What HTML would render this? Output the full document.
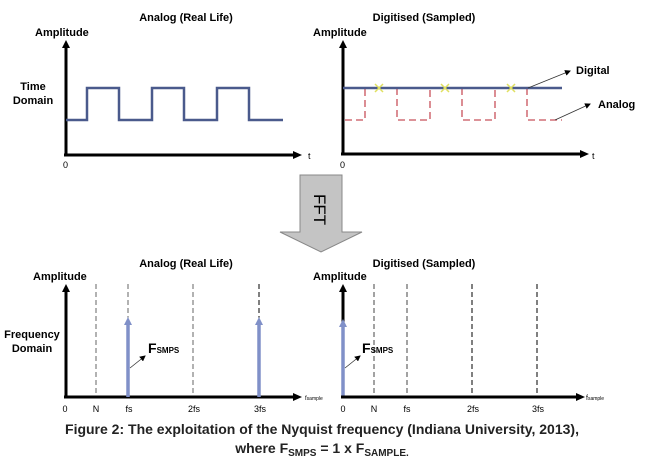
<!DOCTYPE html>
<html><head><style>
body{margin:0;background:#fff;}
svg{display:block;font-family:"Liberation Sans",sans-serif;}
.b{font-weight:bold;font-size:11px;}
.s{font-size:9px;}
</style></head><body>
<svg width="645" height="470" viewBox="0 0 645 470">
<defs>
<marker id="ah" markerWidth="6" markerHeight="6" refX="5" refY="3" orient="auto" markerUnits="userSpaceOnUse"><path d="M0,0 L6,3 L0,6z" fill="#000"/></marker>
<marker id="bh" markerWidth="10" markerHeight="10" refX="3" refY="5" orient="auto" markerUnits="userSpaceOnUse"><path d="M0,1 L8,5 L0,9z" fill="#8090c8"/></marker>
</defs>
<text x="186" y="21" class="b" text-anchor="middle">Analog (Real Life)</text>
<text x="424" y="21" class="b" text-anchor="middle">Digitised (Sampled)</text>
<text x="35" y="36" class="b">Amplitude</text>
<text x="313" y="36" class="b">Amplitude</text>
<text x="33" y="90" class="b" text-anchor="middle">Time</text>
<text x="33" y="104" class="b" text-anchor="middle">Domain</text>
<line x1="66" y1="155" x2="66" y2="44" stroke="#000" stroke-width="3"/>
<path d="M62,48 L66,40 L70,48z"/>
<line x1="64" y1="155" x2="295" y2="155" stroke="#000" stroke-width="3"/>
<path d="M293,151 L302,155 L293,159z"/>
<text x="308" y="159" class="s">t</text>
<text x="63" y="168" class="s">0</text>
<polyline points="66,120 87,120 87,88 119,88 119,120 152,120 152,88 184,88 184,120 217,120 217,88 249,88 249,120 283,120" fill="none" stroke="#4a5a8c" stroke-width="2.5"/>
<line x1="343" y1="154" x2="343" y2="44" stroke="#000" stroke-width="3"/>
<path d="M339,48 L343,40 L347,48z"/>
<line x1="341" y1="154" x2="582" y2="154" stroke="#000" stroke-width="3"/>
<path d="M580,150 L589,154 L580,158z"/>
<text x="592" y="159" class="s">t</text>
<text x="340" y="168" class="s">0</text>
<g stroke="#c8505a" stroke-width="1.3" stroke-dasharray="7,4" fill="none">
<polyline points="345,120 365,120 365,88"/>
<polyline points="397,88 397,120 430,120 430,88"/>
<polyline points="462,88 462,120 495,120 495,88"/>
<polyline points="527,88 527,120 562,120"/>
</g>
<line x1="343" y1="88" x2="562" y2="88" stroke="#4a5a8c" stroke-width="2.5"/>
<g stroke="#e0e060" stroke-width="1.5">
<path d="M375,84 L383,92 M383,84 L375,92"/>
<path d="M441,84 L449,92 M449,84 L441,92"/>
<path d="M507,84 L515,92 M515,84 L507,92"/>
</g>
<line x1="528" y1="88" x2="570" y2="71" stroke="#333" stroke-width="0.8" marker-end="url(#ah)"/>
<text x="576" y="74" class="b">Digital</text>
<line x1="555" y1="120" x2="590" y2="104" stroke="#333" stroke-width="0.8" marker-end="url(#ah)"/>
<text x="598" y="108" class="b">Analog</text>
<path d="M300,175 L342,175 L342,232 L362,232 L321,252 L280,232 L300,232z" fill="#c4c4c4" stroke="#888" stroke-width="1"/>
<text x="0" y="0" transform="translate(314,194) rotate(90)" font-size="17" fill="#000">FFT</text>
<text x="186" y="267" class="b" text-anchor="middle">Analog (Real Life)</text>
<text x="424" y="267" class="b" text-anchor="middle">Digitised (Sampled)</text>
<text x="33" y="280" class="b">Amplitude</text>
<text x="313" y="280" class="b">Amplitude</text>
<text x="32" y="338" class="b" text-anchor="middle">Frequency</text>
<text x="32" y="352" class="b" text-anchor="middle">Domain</text>
<g stroke="#666" stroke-width="1" stroke-dasharray="5,3">
<line x1="96" y1="284" x2="96" y2="397"/>
<line x1="128" y1="284" x2="128" y2="397"/>
<line x1="193" y1="284" x2="193" y2="397"/>
<line x1="259" y1="284" x2="259" y2="397" stroke="#000"/>
</g>
<line x1="66" y1="397" x2="66" y2="288" stroke="#000" stroke-width="3"/>
<path d="M62,292 L66,284 L70,292z"/>
<line x1="64" y1="397" x2="295" y2="397" stroke="#000" stroke-width="3"/>
<path d="M293,393 L302,397 L293,401z"/>
<text x="305" y="400" font-size="6">f<tspan font-size="5">sample</tspan></text>
<line x1="128" y1="397" x2="128" y2="322" stroke="#8090c8" stroke-width="3.5" marker-end="url(#bh)"/>
<line x1="259" y1="397" x2="259" y2="322" stroke="#8090c8" stroke-width="3.5" marker-end="url(#bh)"/>
<line x1="130" y1="368" x2="145" y2="356" stroke="#333" stroke-width="0.8" marker-end="url(#ah)"/>
<text x="148" y="353" font-weight="bold" font-size="14">F<tspan font-size="8">SMPS</tspan></text>
<g class="s" text-anchor="middle">
<text x="65" y="412">0</text><text x="96" y="412">N</text><text x="129" y="412">fs</text><text x="194" y="412">2fs</text><text x="260" y="412">3fs</text>
</g>
<g stroke="#444" stroke-width="1" stroke-dasharray="5,3">
<line x1="374" y1="284" x2="374" y2="397"/>
<line x1="407" y1="284" x2="407" y2="397"/>
<line x1="472" y1="284" x2="472" y2="397" stroke="#000"/>
<line x1="537" y1="284" x2="537" y2="397" stroke="#000"/>
</g>
<line x1="343" y1="397" x2="343" y2="288" stroke="#000" stroke-width="3"/>
<path d="M339,292 L343,284 L347,292z"/>
<line x1="343" y1="397" x2="343" y2="324" stroke="#8090c8" stroke-width="3.5" marker-end="url(#bh)"/>
<line x1="341" y1="397" x2="578" y2="397" stroke="#000" stroke-width="3"/>
<path d="M576,393 L585,397 L576,401z"/>
<text x="586" y="400" font-size="7">f<tspan font-size="5">sample</tspan></text>
<line x1="345" y1="368" x2="360" y2="356" stroke="#333" stroke-width="0.8" marker-end="url(#ah)"/>
<text x="362" y="353" font-weight="bold" font-size="14">F<tspan font-size="8">SMPS</tspan></text>
<g class="s" text-anchor="middle">
<text x="343" y="412">0</text><text x="374" y="412">N</text><text x="407" y="412">fs</text><text x="473" y="412">2fs</text><text x="538" y="412">3fs</text>
</g>
<text x="322" y="434" font-weight="bold" font-size="14" fill="#222" text-anchor="middle">Figure 2: The exploitation of the Nyquist frequency (Indiana University, 2013),</text>
<text x="322" y="453" font-weight="bold" font-size="14" fill="#222" text-anchor="middle">where F<tspan font-size="10" dy="3">SMPS</tspan><tspan dy="-3"> = 1 x F</tspan><tspan font-size="10" dy="3">SAMPLE.</tspan></text>
</svg>
</body></html>
